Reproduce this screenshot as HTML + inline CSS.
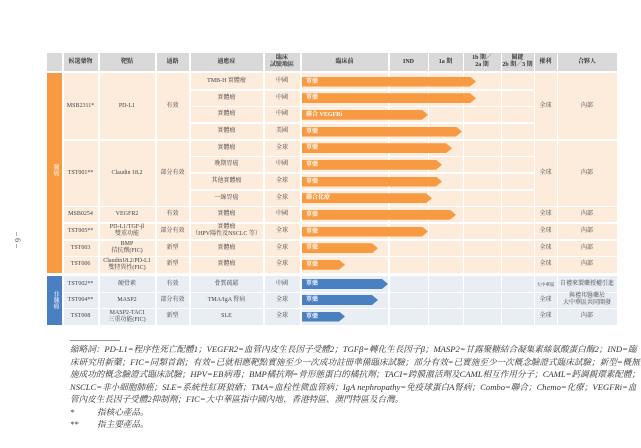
<!DOCTYPE html>
<html><head><meta charset="utf-8"><style>
body{margin:0;width:641px;height:448px;background:#fff;position:relative;overflow:hidden;font-family:"Liberation Serif","Noto Serif CJK SC","Noto Sans CJK TC",serif;color:#444}
div{position:absolute;box-sizing:border-box}
.t{font-size:6px;text-align:center;display:flex;align-items:center;justify-content:center;line-height:7px;white-space:nowrap}
.h{font-weight:bold;color:#333}
.w{background:#fff}
.bar{height:10px;color:#fff;font-size:6px;font-weight:bold;line-height:10px;padding-left:4px;white-space:nowrap}
.o{background:#F79A42}.b{background:#4A80C2}
.f{left:70px;width:550px;font-size:8.6px;font-style:italic;line-height:12px;white-space:nowrap;color:#333}
.j{text-align:justify;text-align-last:justify}
</style></head><body>
<div class="t" style="left:8px;top:232px;width:20px;height:16px;transform:rotate(90deg);font-size:8px">– 6 –</div>
<!-- header -->
<div style="left:47px;top:53px;width:570px;height:18px;background:#D9D9D9"></div>
<!-- orange area -->
<div style="left:47px;top:73px;width:15px;height:200px;background:#F79A42"></div>
<div style="left:63px;top:73px;width:554px;height:200px;background:#FDEBDC"></div>
<div style="left:47px;top:276px;width:15px;height:49px;background:#4A80C2"></div>
<div style="left:63px;top:276px;width:554px;height:49px;background:#E9EDF4"></div>
<!-- vertical lines -->
<div class="w" style="left:62px;top:53px;width:1.5px;height:272px"></div>
<div class="w" style="left:98px;top:53px;width:1.5px;height:272px"></div>
<div class="w" style="left:155px;top:53px;width:1.5px;height:272px"></div>
<div class="w" style="left:189px;top:53px;width:1.5px;height:272px"></div>
<div class="w" style="left:263px;top:53px;width:1.5px;height:272px"></div>
<div class="w" style="left:300px;top:53px;width:1.5px;height:272px"></div>
<div class="w" style="left:388px;top:53px;width:1.5px;height:272px"></div>
<div class="w" style="left:427.5px;top:53px;width:1.5px;height:272px"></div>
<div class="w" style="left:462.5px;top:53px;width:1.5px;height:272px"></div>
<div class="w" style="left:500.5px;top:53px;width:1.5px;height:272px"></div>
<div class="w" style="left:533.5px;top:53px;width:1.5px;height:272px"></div>
<div class="w" style="left:556.5px;top:53px;width:1.5px;height:272px"></div>
<!-- horizontal lines -->
<div class="w" style="left:190px;top:89px;width:344px;height:1.5px"></div>
<div class="w" style="left:190px;top:105.7px;width:344px;height:1.5px"></div>
<div class="w" style="left:190px;top:122.3px;width:344px;height:1.5px"></div>
<div class="w" style="left:63px;top:139px;width:554px;height:1.5px"></div>
<div class="w" style="left:190px;top:155.7px;width:344px;height:1.5px"></div>
<div class="w" style="left:190px;top:172.3px;width:344px;height:1.5px"></div>
<div class="w" style="left:190px;top:189px;width:344px;height:1.5px"></div>
<div class="w" style="left:63px;top:205.7px;width:554px;height:1.5px"></div>
<div class="w" style="left:63px;top:222.3px;width:554px;height:1.5px"></div>
<div class="w" style="left:63px;top:239px;width:554px;height:1.5px"></div>
<div class="w" style="left:63px;top:255.7px;width:554px;height:1.5px"></div>
<div class="w" style="left:63px;top:291.5px;width:554px;height:1.5px"></div>
<div class="w" style="left:63px;top:307.5px;width:554px;height:1.5px"></div>
<!-- header text -->
<div class="t h" style="left:63px;top:53px;width:35px;height:18px">候選藥物</div>
<div class="t h" style="left:99px;top:53px;width:56px;height:18px">靶點</div>
<div class="t h" style="left:156px;top:53px;width:33px;height:18px">通路</div>
<div class="t h" style="left:190px;top:53px;width:73px;height:18px">適應症</div>
<div class="t h" style="left:264px;top:53px;width:36px;height:18px">臨床<br>試驗地區</div>
<div class="t h" style="left:301px;top:53px;width:87px;height:18px">臨床前</div>
<div class="t h" style="left:389px;top:53px;width:39px;height:18px">IND</div>
<div class="t h" style="left:428px;top:53px;width:35px;height:18px">1a 期</div>
<div class="t h" style="left:463px;top:53px;width:38px;height:18px">1b 期／<br>2a 期</div>
<div class="t h" style="left:501px;top:53px;width:33px;height:18px">關鍵<br>2b 期／3 期</div>
<div class="t h" style="left:534px;top:53px;width:23px;height:18px">權利</div>
<div class="t h" style="left:557px;top:53px;width:60px;height:18px">合夥人</div>
<!-- group labels -->
<div class="t" style="left:47px;top:160px;width:15px;height:20px;color:#fff;writing-mode:vertical-rl">腫瘤</div>
<div class="t" style="left:47px;top:285px;width:15px;height:30px;color:#fff;writing-mode:vertical-rl">非腫瘤</div>
<!-- merged cells -->
<div class="t" style="left:63px;top:73px;width:35px;height:66px">MSB2311*</div>
<div class="t" style="left:99px;top:73px;width:56px;height:66px">PD-L1</div>
<div class="t" style="left:156px;top:73px;width:33px;height:66px">有效</div>
<div class="t" style="left:534px;top:73px;width:23px;height:66px">全球</div>
<div class="t" style="left:557px;top:73px;width:60px;height:66px">內部</div>
<div class="t" style="left:63px;top:140px;width:35px;height:66px">TST001**</div>
<div class="t" style="left:99px;top:140px;width:56px;height:66px">Claudin 18.2</div>
<div class="t" style="left:156px;top:140px;width:33px;height:66px">部分有效</div>
<div class="t" style="left:534px;top:140px;width:23px;height:66px">全球</div>
<div class="t" style="left:557px;top:140px;width:60px;height:66px">內部</div>
<!-- indication/region rows -->
<div class="t" style="left:190px;top:73px;width:73px;height:16.7px">TMB-H 實體瘤</div><div class="t" style="left:264px;top:73px;width:36px;height:16.7px">中國</div>
<div class="t" style="left:190px;top:89.7px;width:73px;height:16.7px">實體瘤</div><div class="t" style="left:264px;top:89.7px;width:36px;height:16.7px">中國</div>
<div class="t" style="left:190px;top:106.3px;width:73px;height:16.7px">實體瘤</div><div class="t" style="left:264px;top:106.3px;width:36px;height:16.7px">中國</div>
<div class="t" style="left:190px;top:123px;width:73px;height:16.7px">實體瘤</div><div class="t" style="left:264px;top:123px;width:36px;height:16.7px">美國</div>
<div class="t" style="left:190px;top:139.7px;width:73px;height:16.7px">實體瘤</div><div class="t" style="left:264px;top:139.7px;width:36px;height:16.7px">全球</div>
<div class="t" style="left:190px;top:156.3px;width:73px;height:16.7px">晚期胃癌</div><div class="t" style="left:264px;top:156.3px;width:36px;height:16.7px">中國</div>
<div class="t" style="left:190px;top:173px;width:73px;height:16.7px">其他實體瘤</div><div class="t" style="left:264px;top:173px;width:36px;height:16.7px">全球</div>
<div class="t" style="left:190px;top:189.7px;width:73px;height:16.7px">一線胃癌</div><div class="t" style="left:264px;top:189.7px;width:36px;height:16.7px">全球</div>
<!-- single rows -->
<div class="t" style="left:63px;top:206.3px;width:35px;height:16.7px">MSB0254</div><div class="t" style="left:99px;top:206.3px;width:56px;height:16.7px">VEGFR2</div><div class="t" style="left:156px;top:206.3px;width:33px;height:16.7px">有效</div><div class="t" style="left:190px;top:206.3px;width:73px;height:16.7px">實體瘤</div><div class="t" style="left:264px;top:206.3px;width:36px;height:16.7px">中國</div><div class="t" style="left:534px;top:206.3px;width:23px;height:16.7px">全球</div><div class="t" style="left:557px;top:206.3px;width:60px;height:16.7px">內部</div>
<div class="t" style="left:63px;top:223px;width:35px;height:16.7px">TST005**</div><div class="t" style="left:99px;top:223px;width:56px;height:16.7px">PD-L1/TGF-β<br>雙重功能</div><div class="t" style="left:156px;top:223px;width:33px;height:16.7px">部分有效</div><div class="t" style="left:190px;top:223px;width:73px;height:16.7px">實體瘤<br>（HPV陽性及NSCLC 等）</div><div class="t" style="left:264px;top:223px;width:36px;height:16.7px">全球</div><div class="t" style="left:534px;top:223px;width:23px;height:16.7px">全球</div><div class="t" style="left:557px;top:223px;width:60px;height:16.7px">內部</div>
<div class="t" style="left:63px;top:239.7px;width:35px;height:16.7px">TST003</div><div class="t" style="left:99px;top:239.7px;width:56px;height:16.7px">BMP<br>拮抗劑(FIC)</div><div class="t" style="left:156px;top:239.7px;width:33px;height:16.7px">新型</div><div class="t" style="left:190px;top:239.7px;width:73px;height:16.7px">實體瘤</div><div class="t" style="left:264px;top:239.7px;width:36px;height:16.7px">全球</div><div class="t" style="left:534px;top:239.7px;width:23px;height:16.7px">全球</div><div class="t" style="left:557px;top:239.7px;width:60px;height:16.7px">內部</div>
<div class="t" style="left:63px;top:256.3px;width:35px;height:16.7px">TST006</div><div class="t" style="left:99px;top:256.3px;width:56px;height:16.7px">Claudin18.2/PD-L1<br>雙特異性(FIC)</div><div class="t" style="left:156px;top:256.3px;width:33px;height:16.7px">新型</div><div class="t" style="left:190px;top:256.3px;width:73px;height:16.7px">實體瘤</div><div class="t" style="left:264px;top:256.3px;width:36px;height:16.7px">全球</div><div class="t" style="left:534px;top:256.3px;width:23px;height:16.7px">全球</div><div class="t" style="left:557px;top:256.3px;width:60px;height:16.7px">內部</div>
<!-- blue rows -->
<div class="t" style="left:63px;top:276px;width:35px;height:16px">TST002**</div><div class="t" style="left:99px;top:276px;width:56px;height:16px">硬骨素</div><div class="t" style="left:156px;top:276px;width:33px;height:16px">有效</div><div class="t" style="left:190px;top:276px;width:73px;height:16px">骨質疏鬆</div><div class="t" style="left:264px;top:276px;width:36px;height:16px">中國</div><div class="t" style="left:534px;top:276px;width:23px;height:16px;font-size:4.5px">大中華區</div><div class="t" style="left:557px;top:276px;width:60px;height:16px">自禮來製藥授權引進</div>
<div class="t" style="left:63px;top:292px;width:35px;height:16px">TST004**</div><div class="t" style="left:99px;top:292px;width:56px;height:16px">MASP2</div><div class="t" style="left:156px;top:292px;width:33px;height:16px">部分有效</div><div class="t" style="left:190px;top:292px;width:73px;height:16px">TMA/IgA 腎病</div><div class="t" style="left:264px;top:292px;width:36px;height:16px">全球</div><div class="t" style="left:534px;top:292px;width:23px;height:16px">全球</div><div class="t" style="left:557px;top:292px;width:60px;height:16px">與禮邦醫藥於<br>大中華區共同開發</div>
<div class="t" style="left:63px;top:308px;width:35px;height:17px">TST008</div><div class="t" style="left:99px;top:308px;width:56px;height:17px">MASP2-TACI<br>三重功能(FIC)</div><div class="t" style="left:156px;top:308px;width:33px;height:17px">新型</div><div class="t" style="left:190px;top:308px;width:73px;height:17px">SLE</div><div class="t" style="left:264px;top:308px;width:36px;height:17px">全球</div><div class="t" style="left:534px;top:308px;width:23px;height:17px">全球</div><div class="t" style="left:557px;top:308px;width:60px;height:17px">內部</div>
<!-- bars -->
<div class="bar o" style="left:302px;top:76.5px;width:174px;clip-path:polygon(0 0,calc(100% - 6px) 0,100% 50%,calc(100% - 6px) 100%,0 100%)">單藥</div>
<div class="bar o" style="left:302px;top:93.2px;width:174px;clip-path:polygon(0 0,calc(100% - 6px) 0,100% 50%,calc(100% - 6px) 100%,0 100%)">單藥</div>
<div class="bar o" style="left:302px;top:109.8px;width:126px;clip-path:polygon(0 0,calc(100% - 6px) 0,100% 50%,calc(100% - 6px) 100%,0 100%)">聯合 VEGFRi</div>
<div class="bar o" style="left:302px;top:126.5px;width:160px;clip-path:polygon(0 0,calc(100% - 6px) 0,100% 50%,calc(100% - 6px) 100%,0 100%)">單藥</div>
<div class="bar o" style="left:302px;top:143.2px;width:150px;clip-path:polygon(0 0,calc(100% - 6px) 0,100% 50%,calc(100% - 6px) 100%,0 100%)">單藥</div>
<div class="bar o" style="left:302px;top:159.8px;width:140px;clip-path:polygon(0 0,calc(100% - 6px) 0,100% 50%,calc(100% - 6px) 100%,0 100%)">單藥</div>
<div class="bar o" style="left:302px;top:176.5px;width:140px;clip-path:polygon(0 0,calc(100% - 6px) 0,100% 50%,calc(100% - 6px) 100%,0 100%)">單藥</div>
<div class="bar o" style="left:302px;top:193.2px;width:130px;clip-path:polygon(0 0,calc(100% - 6px) 0,100% 50%,calc(100% - 6px) 100%,0 100%)">聯合化療</div>
<div class="bar o" style="left:302px;top:209.8px;width:154px;clip-path:polygon(0 0,calc(100% - 6px) 0,100% 50%,calc(100% - 6px) 100%,0 100%)">單藥</div>
<div class="bar o" style="left:302px;top:226.5px;width:126px;clip-path:polygon(0 0,calc(100% - 6px) 0,100% 50%,calc(100% - 6px) 100%,0 100%)">單藥</div>
<div class="bar o" style="left:302px;top:243.2px;width:76px;clip-path:polygon(0 0,calc(100% - 6px) 0,100% 50%,calc(100% - 6px) 100%,0 100%)">單藥</div>
<div class="bar o" style="left:302px;top:259.8px;width:43px;clip-path:polygon(0 0,calc(100% - 6px) 0,100% 50%,calc(100% - 6px) 100%,0 100%)">單藥</div>
<div class="bar b" style="left:302px;top:279px;width:86px;clip-path:polygon(0 0,calc(100% - 6px) 0,100% 50%,calc(100% - 6px) 100%,0 100%)">單藥</div>
<div class="bar b" style="left:302px;top:295px;width:76px;clip-path:polygon(0 0,calc(100% - 6px) 0,100% 50%,calc(100% - 6px) 100%,0 100%)">單藥</div>
<div class="bar b" style="left:302px;top:311.5px;width:43px;clip-path:polygon(0 0,calc(100% - 6px) 0,100% 50%,calc(100% - 6px) 100%,0 100%)">單藥</div>
<!-- footnotes -->
<div style="left:70px;top:340px;width:50px;height:1px;background:#999"></div>
<div class="f j" style="top:343px">縮略詞：PD-L1=程序性死亡配體1；VEGFR2=血管內皮生長因子受體2；TGFβ=轉化生長因子β；MASP2=甘露聚糖結合凝集素絲氨酸蛋白酶2；IND=臨</div>
<div class="f j" style="top:355.5px">床研究用新藥；FIC=同類首創；有效=已就相應靶點實施至少一次成功註冊準備臨床試驗；部分有效=已實施至少一次概念驗證式臨床試驗；新型=概無實</div>
<div class="f j" style="top:368px">施成功的概念驗證式臨床試驗；HPV=EB病毒；BMP橘抗劑=骨形態蛋白的橘抗劑；TACI=跨膜激活劑及CAML相互作用分子；CAML=鈣調親環素配體；</div>
<div class="f j" style="top:380.5px">NSCLC=非小細胞肺癌；SLE=系統性紅斑狼瘡；TMA=血栓性微血管病；IgA nephropathy=免疫球蛋白A腎病；Combo=聯合；Chemo=化療；VEGFRi=血</div>
<div class="f" style="top:393px">管內皮生長因子受體2抑制劑；FIC=大中華區指中國內地、香港特區、澳門特區及台灣。</div>
<div class="f" style="top:405.5px">*<span style="position:absolute;left:27px">指核心產品。</span></div>
<div class="f" style="top:418px">**<span style="position:absolute;left:27px">指主要產品。</span></div>
</body></html>
